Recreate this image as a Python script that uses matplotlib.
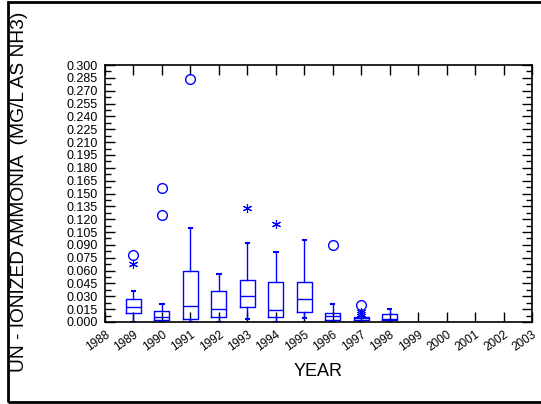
import matplotlib
matplotlib.use("Agg")
from matplotlib import pyplot as plt
from matplotlib.patches import Rectangle

plt.rcParams["font.family"] = ["Liberation Sans", "DejaVu Sans"]

years = [1989, 1990, 1991, 1992, 1993, 1994, 1995, 1996, 1997, 1998]
whislo = [0.0, 0.0, 0.0, 0.0, 0.0035, 0.0, 0.0047, 0.0, 0.0, 0.0]
q1 = [0.0105, 0.002, 0.0039, 0.0058, 0.0175, 0.0054, 0.0113, 0.0028, 0.0028, 0.002]
med = [0.0175, 0.0054, 0.019, 0.0152, 0.0307, 0.014, 0.0264, 0.007, 0.0043, 0.004]
q3 = [0.0268, 0.0124, 0.0598, 0.0361, 0.0486, 0.0462, 0.047, 0.0105, 0.0058, 0.009]
whishi = [0.0358, 0.0214, 0.1096, 0.0564, 0.0921, 0.0812, 0.0956, 0.0215, 0.007, 0.0148]

# near outliers (asterisks) and far outliers (circles)
star_x = [1989, 1993, 1994, 1997, 1997]
star_y = [0.0676, 0.133, 0.1143, 0.0117, 0.009]
circle_x = [1989, 1990, 1990, 1991, 1996, 1997]
circle_y = [0.0785, 0.156, 0.125, 0.2837, 0.0894, 0.0198]

xtick_years = list(range(1988, 2004))
yticks = [i * 0.015 for i in range(21)]

blue = "#0000ff"

fig = plt.figure(figsize=(5.41, 4.04), dpi=100)
ax = fig.add_axes([105 / 541, 1 - 322 / 404, 427 / 541, 257 / 404])

stats = []
for i in range(len(years)):
    stats.append({"whislo": whislo[i], "q1": q1[i], "med": med[i],
                  "q3": q3[i], "whishi": whishi[i], "fliers": []})

ax.bxp(stats, positions=years, widths=0.53, showfliers=False,
       boxprops={"color": blue, "linewidth": 1.0},
       medianprops={"color": blue, "linewidth": 1.0},
       whiskerprops={"color": blue, "linewidth": 1.0},
       capprops={"color": blue, "linewidth": 1.5},
       capwidths=0.12, manage_ticks=False)

ax.plot(star_x, star_y, linestyle="none", marker=(6, 2, 0), markersize=6.5,
        markeredgecolor=blue, markeredgewidth=0.8, color=blue)
ax.plot(circle_x, circle_y, linestyle="none", marker="o", markersize=7,
        markerfacecolor="none", markeredgecolor=blue, markeredgewidth=1.0)

ax.set_xlim(1988, 2003)
ax.set_ylim(0, 0.3)
ax.set_xticks(xtick_years)
ax.set_xticklabels([str(y) for y in xtick_years], rotation=35,
                   ha="right", va="top", rotation_mode="anchor", fontsize=8.5)
ax.set_yticks(yticks)
ax.set_yticklabels(["%.3f" % v for v in yticks], fontsize=9)
ax.set_yticks([0.0075 + i * 0.015 for i in range(20)], minor=True)

ax.tick_params(axis="both", which="major", direction="in", length=7, width=1,
               top=True, right=True, pad=5)
ax.tick_params(axis="y", which="minor", direction="in", length=4, width=1,
               right=True, left=True)
for sp in ax.spines.values():
    sp.set_linewidth(1.2)

fig.text(20 / 541, 1 - 192 / 404, "UN - IONIZED AMMONIA  (MG/L AS NH3)",
         rotation=90, ha="center", va="center", fontsize=13.8)
fig.text(318 / 541, 1 - 371 / 404, "YEAR", ha="center", va="center",
         fontsize=13)

frame = Rectangle((8 / 541, 1 - 402 / 404), 600 / 541, 400 / 404,
                  transform=fig.transFigure, fill=False, edgecolor="black",
                  linewidth=2, clip_on=False)
fig.patches.append(frame)

fig.savefig("out.png", dpi=100)
